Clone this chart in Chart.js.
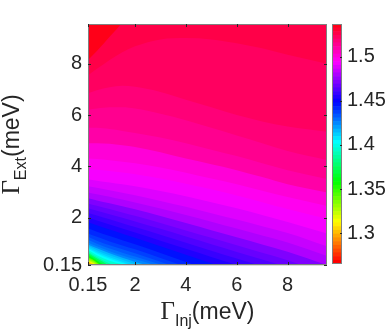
<!DOCTYPE html>
<html><head><meta charset="utf-8">
<script src="https://cdn.jsdelivr.net/npm/chart.js@4/dist/chart.umd.min.js"></script>
<style>
html,body{margin:0;padding:0;background:#fff;}
#wrap{position:relative;width:390px;height:336px;overflow:hidden;background:#fff;}
#main{position:absolute;left:0;top:0;}
#cbar{position:absolute;left:330px;top:0;}
</style></head><body>
<div id="wrap"><canvas id="main" width="330" height="336"></canvas><canvas id="cbar" width="60" height="336"></canvas></div>
<script>
// ---- axes / colour scale ----
const xTicks = [0.15, 2, 4, 6, 8];
const yTicks = [0.15, 2, 4, 6, 8];
const cbarTicks = [1.3, 1.35, 1.4, 1.45, 1.5];
const axisMin = 0.15, axisMax = 9.55;
const cMin = 1.265, cMax = 1.537;
const colormapSteps = 64;

// ---- contour lines: y position of each level at the sample x positions ----
const contourX = [0.15, 0.5, 1, 1.5, 2, 3, 4, 5, 6, 7, 8, 9.55];
const levels = [1.27, 1.28, 1.29, 1.30, 1.31, 1.32, 1.33, 1.34, 1.35, 1.36, 1.37, 1.38, 1.39,
                1.400, 1.405, 1.410, 1.415, 1.420, 1.425, 1.430, 1.435, 1.440, 1.445, 1.450, 1.455,
                1.460, 1.465, 1.470, 1.475, 1.480, 1.485, 1.490, 1.495, 1.500, 1.505, 1.510, 1.515,
                1.520, 1.525, 1.530];
const c1270 = [0.17, -0.40, -1, -1, -1, -1, -1, -1, -1, -1, -1, -1];
const c1280 = [0.20, -0.30, -1, -1, -1, -1, -1, -1, -1, -1, -1, -1];
const c1290 = [0.25, -0.15, -1, -1, -1, -1, -1, -1, -1, -1, -1, -1];
const c1300 = [0.28, -0.05, -1, -1, -1, -1, -1, -1, -1, -1, -1, -1];
const c1310 = [0.31, 0.08, -0.6, -1, -1, -1, -1, -1, -1, -1, -1, -1];
const c1320 = [0.34, 0.13, -0.5, -1, -1, -1, -1, -1, -1, -1, -1, -1];
const c1330 = [0.38, 0.18, -0.4, -1, -1, -1, -1, -1, -1, -1, -1, -1];
const c1340 = [0.42, 0.22, -0.3, -1, -1, -1, -1, -1, -1, -1, -1, -1];
const c1350 = [0.46, 0.26, -0.2, -1, -1, -1, -1, -1, -1, -1, -1, -1];
const c1360 = [0.51, 0.30, -0.1, -1, -1, -1, -1, -1, -1, -1, -1, -1];
const c1370 = [0.56, 0.34, 0.00, -0.5, -1, -1, -1, -1, -1, -1, -1, -1];
const c1380 = [0.62, 0.40, 0.10, -0.4, -1, -1, -1, -1, -1, -1, -1, -1];
const c1390 = [0.68, 0.46, 0.21, 0.02, -0.3, -1, -1, -1, -1, -1, -1, -1];
const c1400 = [0.74, 0.53, 0.32, 0.18, 0.05, -0.3, -1, -1, -1, -1, -1, -1];
const c1405 = [0.78, 0.60, 0.39, 0.23, 0.08, -0.25, -1, -1, -1, -1, -1, -1];
const c1410 = [0.83, 0.66, 0.45, 0.28, 0.10, -0.20, -0.6, -1, -1, -1, -1, -1];
const c1415 = [0.89, 0.73, 0.53, 0.35, 0.18, -0.12, -0.5, -1, -1, -1, -1, -1];
const c1420 = [0.95, 0.80, 0.61, 0.43, 0.27, 0.00, -0.35, -0.8, -1, -1, -1, -1];
const c1425 = [1.03, 0.88, 0.69, 0.52, 0.37, 0.08, -0.25, -0.7, -1, -1, -1, -1];
const c1430 = [1.13, 0.98, 0.79, 0.63, 0.48, 0.17, -0.15, -0.55, -1, -1, -1, -1];
const c1435 = [1.25, 1.10, 0.92, 0.76, 0.61, 0.28, -0.05, -0.40, -0.8, -1, -1, -1];
const c1440 = [1.38, 1.25, 1.07, 0.91, 0.76, 0.42, 0.08, -0.30, -0.7, -1, -1, -1];
const c1445 = [1.58, 1.45, 1.28, 1.12, 0.96, 0.62, 0.27, -0.08, -0.45, -0.8, -1, -1];
const c1450 = [1.82, 1.70, 1.53, 1.37, 1.21, 0.88, 0.55, 0.22, -0.10, -0.45, -0.8, -1.4];
const c1455 = [2.00, 1.89, 1.73, 1.57, 1.42, 1.10, 0.78, 0.46, 0.15, -0.15, -0.5, -1.0];
const c1460 = [2.18, 2.08, 1.93, 1.78, 1.63, 1.33, 1.02, 0.71, 0.40, 0.10, -0.2, -0.8];
const c1465 = [2.36, 2.27, 2.13, 1.99, 1.85, 1.56, 1.26, 0.96, 0.66, 0.36, 0.06, -0.5];
const c1470 = [2.55, 2.46, 2.33, 2.20, 2.07, 1.79, 1.50, 1.21, 0.92, 0.63, 0.34, -0.2];
const c1475 = [2.75, 2.67, 2.56, 2.44, 2.32, 2.06, 1.79, 1.51, 1.23, 0.95, 0.67, 0.15];
const c1480 = [2.98, 2.91, 2.81, 2.70, 2.59, 2.35, 2.10, 1.84, 1.57, 1.30, 1.03, 0.50];
const c1485 = [3.22, 3.16, 3.07, 2.97, 2.87, 2.65, 2.42, 2.17, 1.92, 1.66, 1.40, 0.88];
const c1490 = [3.48, 3.44, 3.37, 3.30, 3.22, 3.04, 2.83, 2.60, 2.36, 2.10, 1.83, 1.38];
const c1495 = [3.90, 3.87, 3.82, 3.76, 3.69, 3.52, 3.32, 3.10, 2.86, 2.60, 2.33, 1.95];
const c1500 = [4.30, 4.28, 4.24, 4.18, 4.12, 3.95, 3.75, 3.52, 3.30, 3.05, 2.80, 2.45];
const c1505 = [4.90, 4.90, 4.88, 4.82, 4.75, 4.55, 4.30, 4.08, 3.85, 3.58, 3.30, 2.98];
const c1510 = [5.50, 5.50, 5.45, 5.38, 5.30, 5.12, 4.90, 4.65, 4.40, 4.12, 3.85, 3.50];
const c1515 = [6.20, 6.25, 6.30, 6.30, 6.25, 6.05, 5.80, 5.50, 5.20, 4.90, 4.60, 4.25];
const c1520 = [6.85, 6.97, 7.08, 7.14, 7.10, 6.90, 6.60, 6.30, 6.00, 5.75, 5.55, 5.35];
const c1525 = [7.55, 7.80, 8.15, 8.45, 8.68, 8.95, 9.00, 8.95, 8.80, 8.60, 8.35, 8.00];
const c1530 = [8.15, 8.50, 9.05, 9.60, 10.2, 11.0, 11.5, 12.0, 12.5, 13.0, 13.5, 14.0];
const contourY = [c1270, c1280, c1290, c1300, c1310, c1320, c1330, c1340, c1350, c1360, c1370, c1380, c1390,
                  c1400, c1405, c1410, c1415, c1420, c1425, c1430, c1435, c1440, c1445, c1450, c1455,
                  c1460, c1465, c1470, c1475, c1480, c1485, c1490, c1495, c1500, c1505, c1510, c1515,
                  c1520, c1525, c1530];

// ---- MATLAB-like hsv colormap ----
function hsvColor(h) {
  const i = Math.floor(h * 6), f = h * 6 - i, q = 1 - f;
  let r, g, b;
  switch (i % 6) {
    case 0: r = 1; g = f; b = 0; break;
    case 1: r = q; g = 1; b = 0; break;
    case 2: r = 0; g = 1; b = f; break;
    case 3: r = 0; g = q; b = 1; break;
    case 4: r = f; g = 0; b = 1; break;
    default: r = 1; g = 0; b = q;
  }
  return 'rgb(' + Math.round(r * 255) + ',' + Math.round(g * 255) + ',' + Math.round(b * 255) + ')';
}
function valueColor(v) {
  let idx = Math.floor((v - cMin) / (cMax - cMin) * colormapSteps);
  idx = Math.max(0, Math.min(colormapSteps - 1, idx));
  return hsvColor(idx / colormapSteps);
}

const TXT = '#262626';
const SANS = '"Liberation Sans", Arial, Helvetica, sans-serif';
const SERIF = '"Liberation Serif", "Times New Roman", serif';

// ---- main contour chart ----
const datasets = levels.map((L, k) => ({
  data: contourX.map((x, i) => ({ x: x, y: contourY[k][i] })),
  backgroundColor: valueColor(((k === 0 ? cMin : levels[k - 1]) + L) / 2),
  borderColor: 'rgba(0,0,0,0)',
  borderWidth: 0,
  pointRadius: 0,
  fill: 'start',
  cubicInterpolationMode: 'monotone',
  order: k
}));

const bgPlugin = {
  id: 'bg',
  beforeDatasetsDraw(chart) {
    const { ctx, chartArea: a } = chart;
    ctx.save();
    ctx.fillStyle = valueColor((levels[levels.length - 1] + cMax) / 2);
    ctx.fillRect(a.left, a.top, a.right - a.left, a.bottom - a.top);
    ctx.restore();
  }
};

function drawTitle(ctx, parts) {
  let w = 0;
  parts.forEach(p => { ctx.font = p.font; p.w = ctx.measureText(p.t).width; w += p.w; });
  let x = -w / 2;
  parts.forEach(p => { ctx.font = p.font; ctx.fillText(p.t, x, p.dy); x += p.w; });
}

const boxPlugin = {
  id: 'box',
  afterDraw(chart) {
    const { ctx, chartArea: a, scales } = chart;
    ctx.save();
    ctx.strokeStyle = '#808080';
    ctx.lineWidth = 1;
    ctx.strokeRect(a.left + 0.5, a.top + 0.5, a.right - a.left - 1, a.bottom - a.top - 1);
    ctx.strokeStyle = TXT;
    ctx.beginPath();
    xTicks.forEach(v => {
      const px = Math.round(scales.x.getPixelForValue(v)) + 0.5;
      ctx.moveTo(px, a.bottom); ctx.lineTo(px, a.bottom - 3);
      ctx.moveTo(px, a.top); ctx.lineTo(px, a.top + 3);
    });
    yTicks.forEach(v => {
      const py = Math.round(scales.y.getPixelForValue(v)) + 0.5;
      ctx.moveTo(a.left, py); ctx.lineTo(a.left + 3, py);
      ctx.moveTo(a.right, py); ctx.lineTo(a.right - 3, py);
    });
    ctx.stroke();
    // axis titles
    ctx.fillStyle = TXT;
    ctx.textBaseline = 'alphabetic';
    ctx.textAlign = 'left';
    ctx.save();
    ctx.translate((a.left + a.right) / 2, 319);
    drawTitle(ctx, [
      { t: 'Γ', font: '25px ' + SERIF, dy: 0 },
      { t: 'Inj', font: '16px ' + SANS, dy: 7 },
      { t: '(meV)', font: '23px ' + SANS, dy: 0 }
    ]);
    ctx.restore();
    ctx.save();
    ctx.translate(19, (a.top + a.bottom) / 2);
    ctx.rotate(-Math.PI / 2);
    drawTitle(ctx, [
      { t: 'Γ', font: '25px ' + SERIF, dy: 0 },
      { t: 'Ext', font: '16px ' + SANS, dy: 7 },
      { t: '(meV)', font: '23px ' + SANS, dy: 0 }
    ]);
    ctx.restore();
    ctx.restore();
  }
};

const tickFont = { family: SANS, size: 20 };

new Chart(document.getElementById('main'), {
  type: 'line',
  data: { datasets: datasets },
  options: {
    responsive: false,
    animation: false,
    events: [],
    devicePixelRatio: 1,
    layout: { padding: { top: 24, right: 3, left: 0, bottom: 0 } },
    plugins: { legend: { display: false }, tooltip: { enabled: false } },
    scales: {
      x: {
        type: 'linear', min: axisMin, max: axisMax, z: 1,
        afterBuildTicks: s => { s.ticks = xTicks.map(v => ({ value: v })); },
        afterFit: s => { s.height = 71; },
        grid: { color: 'rgba(38,38,38,0.16)', lineWidth: 1, drawTicks: false },
        border: { display: false },
        ticks: { autoSkip: false, maxRotation: 0, padding: 8, color: TXT, font: tickFont, callback: v => String(v) }
      },
      y: {
        type: 'linear', min: axisMin, max: axisMax, z: 1,
        afterBuildTicks: s => { s.ticks = yTicks.map(v => ({ value: v })); },
        afterFit: s => { s.width = 88; },
        grid: { color: 'rgba(38,38,38,0.16)', lineWidth: 1, drawTicks: false },
        border: { display: false },
        ticks: { autoSkip: false, padding: 6, color: TXT, font: tickFont, callback: v => String(v) }
      }
    }
  },
  plugins: [bgPlugin, boxPlugin]
});

// ---- colour bar ----
const cbarSlices = [];
for (let i = 0; i < colormapSteps; i++) {
  const lo = cMin + (cMax - cMin) * i / colormapSteps;
  const hi = cMin + (cMax - cMin) * (i + 1) / colormapSteps;
  cbarSlices.push({
    data: [[lo, hi]],
    backgroundColor: hsvColor(i / colormapSteps),
    borderWidth: 0,
    grouped: false,
    barPercentage: 1,
    categoryPercentage: 1
  });
}

const cbarBox = {
  id: 'cbox',
  afterDraw(chart) {
    const { ctx, chartArea: a, scales } = chart;
    ctx.save();
    ctx.strokeStyle = '#808080';
    ctx.lineWidth = 1;
    ctx.strokeRect(a.left + 0.5, a.top + 0.5, a.right - a.left - 1, a.bottom - a.top - 1);
    ctx.strokeStyle = TXT;
    ctx.beginPath();
    cbarTicks.forEach(v => {
      const py = Math.round(scales.y.getPixelForValue(v)) + 0.5;
      ctx.moveTo(a.right, py); ctx.lineTo(a.right - 2, py);
    });
    ctx.stroke();
    ctx.restore();
  }
};

new Chart(document.getElementById('cbar'), {
  type: 'bar',
  data: { labels: [''], datasets: cbarSlices },
  options: {
    responsive: false,
    animation: false,
    events: [],
    devicePixelRatio: 1,
    layout: { padding: { top: 24, left: 2, right: 0, bottom: 72 } },
    plugins: { legend: { display: false }, tooltip: { enabled: false } },
    scales: {
      x: { display: false },
      y: {
        position: 'right', min: cMin, max: cMax,
        afterBuildTicks: s => { s.ticks = cbarTicks.map(v => ({ value: v })); },
        afterFit: s => { s.width = 48; },
        grid: { display: false, drawTicks: false },
        border: { display: false },
        ticks: { autoSkip: false, padding: 5, color: TXT, font: tickFont, callback: v => String(v) }
      }
    }
  },
  plugins: [cbarBox]
});
</script>
</body></html>
